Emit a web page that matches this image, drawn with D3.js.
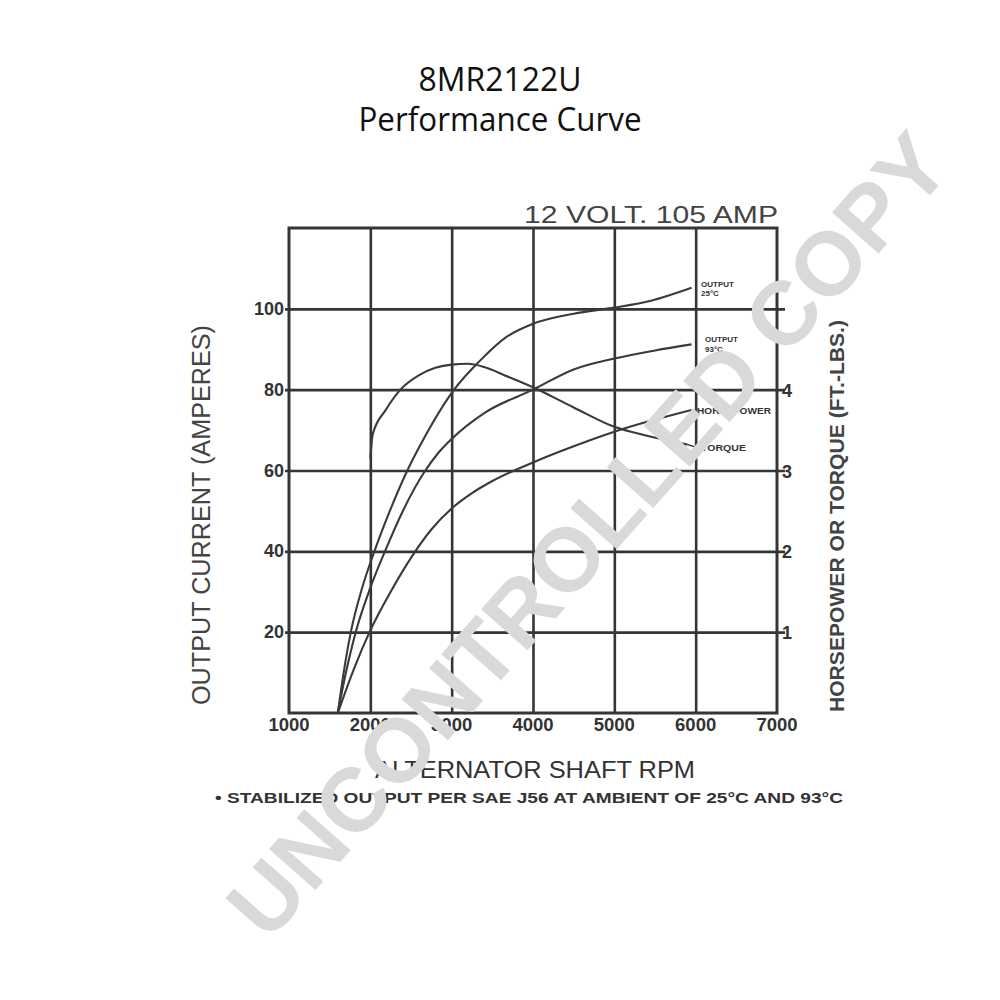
<!DOCTYPE html>
<html>
<head>
<meta charset="utf-8">
<script src="https://cdn.jsdelivr.net/npm/d3@7"></script>
<style>
  html, body { margin: 0; padding: 0; background: #fff; }
  svg { display: block; }
</style>
</head>
<body>
<svg id="chart" width="1000" height="1000"></svg>
<script>
// ---- data ----
const rpmTicks = [1000, 2000, 3000, 4000, 5000, 6000, 7000];
const ampTicks = [20, 40, 60, 80, 100];
const rightTicks = [1, 2, 3, 4];

const out25Rpm  = [1600, 1680, 1760, 1900, 2050, 2250, 2455, 2650, 3030, 3340, 3670, 4000, 4500, 5000, 5450, 5950];
const out25Amps = [0, 11, 20, 31, 40, 50.5, 60, 67.6, 80, 87, 93, 96.3, 98.8, 100.3, 102, 105.2];

const out93Rpm  = [1600, 1700, 1820, 2000, 2180, 2400, 2660, 2830, 3000, 3400, 4000, 4500, 5000, 5500, 5950];
const out93Amps = [0, 10, 20, 31, 40, 50, 59.5, 64.2, 67.8, 74.2, 80, 85, 87.7, 89.7, 91.2];

const hpRpm = [1600, 1800, 1990, 2250, 2520, 2750, 3000, 3250, 3500, 4000, 4500, 5000, 5500, 5950];
const hpVal = [0, 0.55, 1.0, 1.5, 1.95, 2.27, 2.53, 2.72, 2.87, 3.1, 3.3, 3.48, 3.63, 3.75];

const tqRpm = [2000, 2030, 2190, 2370, 2600, 2800, 3000, 3200, 3400, 3670, 4000, 4500, 5000, 5400, 5900];
const tqVal = [3.15, 3.45, 3.75, 4.0, 4.18, 4.27, 4.31, 4.32, 4.28, 4.17, 4.03, 3.78, 3.54, 3.43, 3.32];

const titleLines = ["8MR2122U", "Performance Curve"];
const ratingText = "12 VOLT. 105 AMP";
const xTitle = "ALTERNATOR SHAFT RPM";
const yTitle = "OUTPUT CURRENT (AMPERES)";
const y2Title = "HORSEPOWER OR TORQUE (FT.-LBS.)";
const footnote = "\u2022 STABILIZED OUTPUT PER SAE J56 AT AMBIENT OF 25\u00B0C AND 93\u00B0C";
const watermark = "UNCONTROLLED COPY";

// ---- layout ----
const svg = d3.select("#chart");
const L = 289, R = 777, T = 228, B = 713;
const ink = "#353535";

const x = d3.scaleLinear().domain([1000, 7000]).range([L, R]);
const y = d3.scaleLinear().domain([0, 120]).range([B, T]);
const y2 = d3.scaleLinear().domain([0, 6]).range([B, T]);

// titles
svg.append("text").attr("x", 500).attr("y", 91).attr("text-anchor", "middle")
  .attr("font-family", "'Open Sans', sans-serif").attr("font-size", 33)
  .attr("textLength", 163).attr("lengthAdjust", "spacingAndGlyphs")
  .attr("fill", "#111").text(titleLines[0]);
svg.append("text").attr("x", 500).attr("y", 131).attr("text-anchor", "middle")
  .attr("font-family", "'Open Sans', sans-serif").attr("font-size", 32)
  .attr("textLength", 283).attr("lengthAdjust", "spacingAndGlyphs")
  .attr("fill", "#111").text(titleLines[1]);

// rating
svg.append("text").attr("x", 524).attr("y", 223)
  .attr("font-family", "'Liberation Sans', Arial, sans-serif").attr("font-size", 24)
  .attr("textLength", 254).attr("lengthAdjust", "spacingAndGlyphs")
  .attr("fill", "#444").text(ratingText);

// grid
const g = svg.append("g");
g.append("g").attr("transform", `translate(0,${B})`)
  .call(d3.axisBottom(x).tickValues(rpmTicks.slice(1, -1)).tickSize(-(B - T)).tickFormat(""))
  .call(s => s.select(".domain").remove())
  .call(s => s.selectAll("line").attr("stroke", ink).attr("stroke-width", 2.6));
g.append("g").attr("transform", `translate(${L - 4},0)`)
  .call(d3.axisLeft(y).tickValues(ampTicks).tickSize(-(R - L + 12)).tickFormat(""))
  .call(s => s.select(".domain").remove())
  .call(s => s.selectAll("line").attr("stroke", ink).attr("stroke-width", 2.6));
g.append("rect").attr("x", L).attr("y", T).attr("width", R - L).attr("height", B - T)
  .attr("fill", "none").attr("stroke", ink).attr("stroke-width", 3);

// tick labels
const tickFont = "'Liberation Sans', Arial, sans-serif";
svg.append("g").selectAll("text").data(rpmTicks).join("text")
  .attr("x", d => x(d)).attr("y", 731).attr("text-anchor", "middle")
  .attr("font-family", tickFont).attr("font-weight", "bold").attr("font-size", 18.5)
  .attr("fill", "#333").text(d => d);
svg.append("g").selectAll("text").data(ampTicks).join("text")
  .attr("x", 284).attr("y", d => y(d) + 6).attr("text-anchor", "end")
  .attr("font-family", tickFont).attr("font-weight", "bold").attr("font-size", 18)
  .attr("fill", "#333").text(d => d);
svg.append("g").selectAll("text").data(rightTicks).join("text")
  .attr("x", 782).attr("y", d => y2(d) + 7)
  .attr("font-family", tickFont).attr("font-weight", "bold").attr("font-size", 18)
  .attr("fill", "#333").text(d => d);

// axis titles
svg.append("text").attr("transform", "translate(210,515) rotate(-90)").attr("text-anchor", "middle")
  .attr("font-family", tickFont).attr("font-size", 25)
  .attr("textLength", 380).attr("lengthAdjust", "spacingAndGlyphs")
  .attr("fill", "#444").text(yTitle);
svg.append("text").attr("transform", "translate(844,516) rotate(-90)").attr("text-anchor", "middle")
  .attr("font-family", tickFont).attr("font-size", 20).attr("font-weight", "bold")
  .attr("textLength", 392).attr("lengthAdjust", "spacingAndGlyphs")
  .attr("fill", "#444").text(y2Title);
svg.append("text").attr("x", 535).attr("y", 778).attr("text-anchor", "middle")
  .attr("font-family", tickFont).attr("font-size", 24)
  .attr("textLength", 320).attr("lengthAdjust", "spacingAndGlyphs")
  .attr("fill", "#333").text(xTitle);
svg.append("text").attr("x", 529).attr("y", 803).attr("text-anchor", "middle")
  .attr("font-family", tickFont).attr("font-size", 14).attr("font-weight", "bold")
  .attr("textLength", 628).attr("lengthAdjust", "spacingAndGlyphs")
  .attr("fill", "#333").text(footnote);

// curves
const curve = d3.curveMonotoneX;
const lineA = d3.line().x(d => x(d[0])).y(d => y(d[1])).curve(curve);
const lineB = d3.line().x(d => x(d[0])).y(d => y2(d[1])).curve(curve);
const series = [
  { d: d3.zip(out25Rpm, out25Amps), gen: lineA },
  { d: d3.zip(out93Rpm, out93Amps), gen: lineA },
  { d: d3.zip(hpRpm, hpVal), gen: lineB },
  { d: d3.zip(tqRpm, tqVal), gen: lineB },
];
svg.append("g").selectAll("path").data(series).join("path")
  .attr("d", s => s.gen(s.d)).attr("fill", "none")
  .attr("stroke", "#3a3a3a").attr("stroke-width", 2.1);

// in-plot labels
const lab = svg.append("g").attr("font-family", tickFont).attr("font-weight", "bold")
  .attr("font-size", 8).attr("fill", "#333");
lab.append("text").attr("x", 701).attr("y", 287).text("OUTPUT");
lab.append("text").attr("x", 701).attr("y", 296).text("25\u00B0C");
lab.append("text").attr("x", 705).attr("y", 342).text("OUTPUT");
lab.append("text").attr("x", 705).attr("y", 352).text("93\u00B0C");
lab.append("text").attr("x", 697).attr("y", 414).attr("font-size", 9)
  .attr("textLength", 74).attr("lengthAdjust", "spacingAndGlyphs").text("HORSEPOWER");
lab.append("text").attr("x", 701).attr("y", 451).attr("font-size", 9)
  .attr("textLength", 45).attr("lengthAdjust", "spacingAndGlyphs").text("TORQUE");
svg.append("line").attr("x1", x(5900)).attr("x2", 699).attr("y1", y2(3.32)).attr("y2", 448)
  .attr("stroke", "#333").attr("stroke-width", 1.5);

// watermark
svg.append("text").attr("transform", "translate(588,535) rotate(-48.5)")
  .attr("text-anchor", "middle").attr("dominant-baseline", "central")
  .attr("font-family", "'Liberation Sans', Arial, sans-serif").attr("font-weight", "bold")
  .attr("font-size", 90).attr("fill", "#d9d9d9").text(watermark);
</script>
</body>
</html>
